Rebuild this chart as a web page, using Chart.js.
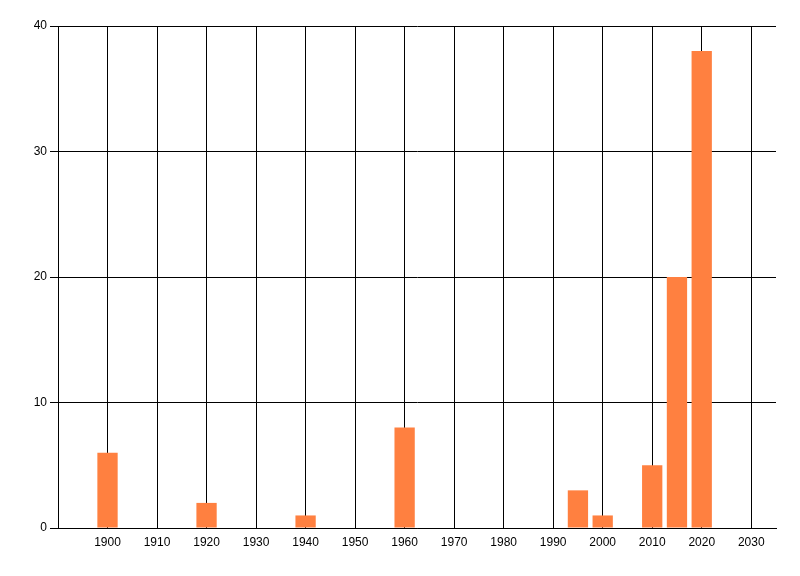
<!DOCTYPE html>
<html>
<head>
<meta charset="utf-8">
<script src="https://cdn.jsdelivr.net/npm/chart.js@4/dist/chart.umd.min.js"></script>
<style>
html,body{margin:0;padding:0;background:#fff;}
#wrap{width:800px;height:576px;}
</style>
</head>
<body>
<div id="wrap"><canvas id="c" width="800" height="576"></canvas></div>
<script>
const years = [1900, 1920, 1940, 1960, 1995, 2000, 2010, 2015, 2020];
const counts = [6, 2, 1, 8, 3, 1, 5, 20, 38];
const xTicks = [1900, 1910, 1920, 1930, 1940, 1950, 1960, 1970, 1980, 1990, 2000, 2010, 2020, 2030];
const yTicks = [0, 10, 20, 30, 40];

const ctx = document.getElementById('c').getContext('2d');
new Chart(ctx, {
  type: 'bar',
  data: {
    datasets: [{
      data: years.map((y, i) => ({x: y, y: counts[i]})),
      backgroundColor: 'rgb(255,128,64)',
      borderWidth: 0,
      barPercentage: 0.82,
      categoryPercentage: 1
    }]
  },
  options: {
    responsive: false,
    animation: false,
    layout: {padding: {top: 26, right: 24, left: 0, bottom: 0}},
    plugins: {legend: {display: false}, tooltip: {enabled: false}},
    scales: {
      x: {
        type: 'linear',
        min: 1890,
        max: 2035,
        offset: false,
        afterBuildTicks: s => { s.ticks = xTicks.map(v => ({value: v})); },
        afterFit: s => { s.height = 48; },
        grid: {color: '#000', lineWidth: 1, drawTicks: false, offset: false},
        border: {color: '#000', width: 1},
        ticks: {color: '#000', font: {family: 'Liberation Sans', size: 12}, padding: 7, maxRotation: 0, autoSkip: false,
                callback: v => String(v)}
      },
      y: {
        min: 0,
        max: 40,
        afterBuildTicks: s => { s.ticks = yTicks.map(v => ({value: v})); },
        afterFit: s => { s.width = 58; },
        grid: {color: '#000', lineWidth: 1, drawTicks: true, tickLength: 8},
        border: {color: '#000', width: 1},
        ticks: {color: '#000', font: {family: 'Liberation Sans', size: 12}, padding: 3,
                callback: v => String(v)}
      }
    }
  }
});
</script>
</body>
</html>
